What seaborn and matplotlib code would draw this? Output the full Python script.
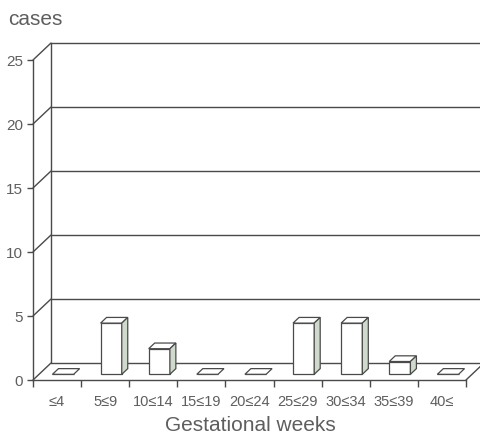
import numpy as np
import pandas as pd
import matplotlib
matplotlib.use("Agg")
import matplotlib.pyplot as plt
import matplotlib.transforms as mtransforms
from matplotlib.patches import Polygon
import seaborn as sns

# Gestational age groups and number of cases
categories = ["≤4", "5≤9", "10≤14", "15≤19", "20≤24", "25≤29", "30≤34", "35≤39", "40≤"]
cases = [0, 4, 2, 0, 0, 4, 4, 1, 0]
y_ticks = [0, 5, 10, 15, 20, 25]

sns.set_theme(style="white")
plt.rcParams["font.family"] = ["Liberation Sans", "DejaVu Sans"]

LINE = "#4a4a4a"
TEXT = "#5e5e5e"
SIDE = "#cfd9cc"

df = pd.DataFrame({"group": categories, "cases": cases})

fig = plt.figure(figsize=(4.8, 4.34), dpi=100)
W, H = 480, 434
# axes = front plane of the pseudo-3D box
ax = fig.add_axes([33 / W, (H - 380) / H, 433 / W, 320 / H])
ax.set_xlim(-0.5, len(categories) - 0.5)
ax.set_ylim(0, 25)

# depth of the box in pixels, converted to data units
p0 = ax.transData.transform((0, 0))
p1 = ax.transData.transform((1, 1))
sx, sy = p1[0] - p0[0], p1[1] - p0[1]
DX, DY = 18 / sx, 17 / sy
bdx, bdy = DX / 3, DY / 3  # bar depth

# back wall, floor and connecting diagonals
x_left, x_right = -0.5, len(categories) - 0.5
for v in y_ticks:
    ax.plot([x_left + DX, x_right + DX], [v + DY, v + DY], color=LINE, lw=1.0,
            clip_on=False, zorder=1)
    ax.plot([x_left, x_left + DX], [v, v + DY], color=LINE, lw=1.0,
            clip_on=False, zorder=1)
ax.plot([x_left + DX, x_left + DX], [DY, 25 + DY], color=LINE, lw=1.0,
        clip_on=False, zorder=1)
ax.plot([x_right, x_right + DX], [0, DY], color=LINE, lw=1.0,
        clip_on=False, zorder=1)

# bars: front faces from seaborn, set back by a third of the box depth
sns.barplot(data=df, x="group", y="cases", order=categories, width=0.44,
            color="white", edgecolor=LINE, linewidth=0.9, saturation=1,
            ax=ax, zorder=3)
ax.set_xlim(x_left, x_right)
ax.set_ylim(0, 25)

shift = mtransforms.offset_copy(ax.transData, fig, x=6, y=5.7, units="dots")
for rect in ax.patches:
    rect.set_transform(shift)
    rect.set_clip_on(False)
    x0 = rect.get_x()
    x1 = x0 + rect.get_width()
    h = rect.get_height()
    top = Polygon([(x0, h), (x1, h), (x1 + bdx, h + bdy), (x0 + bdx, h + bdy)],
                  closed=True, facecolor="white", edgecolor=LINE, lw=0.9,
                  transform=shift, clip_on=False, zorder=4)
    ax.add_patch(top)
    if h > 0:
        side = Polygon([(x1, 0), (x1 + bdx, bdy), (x1 + bdx, h + bdy), (x1, h)],
                       closed=True, facecolor=SIDE, edgecolor=LINE, lw=0.9,
                       transform=shift, clip_on=False, zorder=4)
        ax.add_patch(side)

# axes styling
for s in ["top", "right"]:
    ax.spines[s].set_visible(False)
for s in ["left", "bottom"]:
    ax.spines[s].set_color(LINE)
    ax.spines[s].set_linewidth(1.0)
    ax.spines[s].set_zorder(2)
ax.grid(False)
ax.set_facecolor("none")

ax.set_yticks(y_ticks)
ax.set_yticklabels([str(v) for v in y_ticks])
ax.tick_params(axis="y", direction="out", length=4, width=1.0, color=LINE,
               pad=3, labelsize=11, labelcolor=TEXT, left=True)

ax.set_xticks(np.arange(len(categories) + 1) - 0.5)
ax.set_xticklabels([])
ax.set_xticks(np.arange(len(categories)), minor=True)
ax.set_xticklabels(categories, minor=True)
ax.tick_params(axis="x", which="major", direction="out", length=5, width=1.0,
               color=LINE, bottom=True)
ax.tick_params(axis="x", which="minor", length=0, pad=11, labelsize=10.5,
               labelcolor=TEXT)

ax.set_ylabel("")
ax.set_xlabel("Gestational weeks", fontsize=15, color=TEXT)
ax.xaxis.set_label_coords(0.503, -0.112)

fig.text(8 / W, 1 - 25 / H, "cases", fontsize=15, color=TEXT,
         ha="left", va="baseline")

fig.savefig("out.png", dpi=100, facecolor="white")
